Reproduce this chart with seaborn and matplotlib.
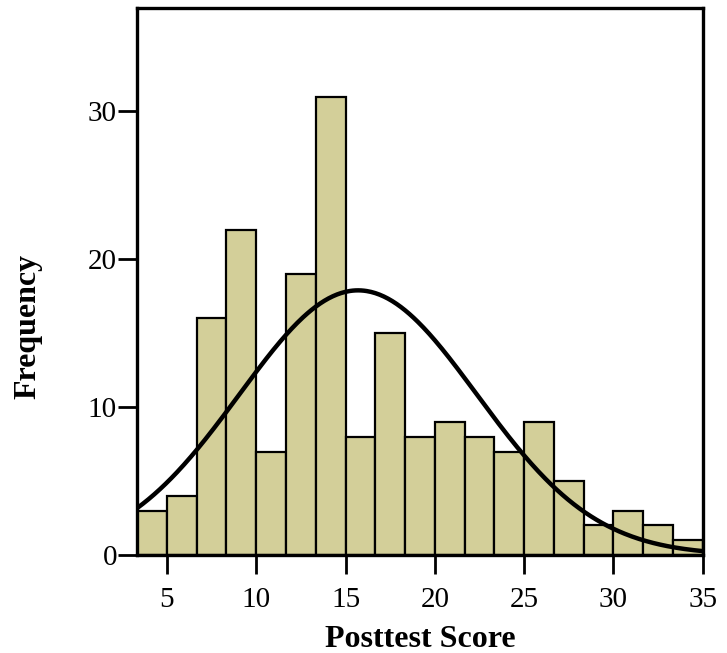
import numpy as np
import pandas as pd
import seaborn as sns
import matplotlib.pyplot as plt

# histogram: bins of width 5/3 from 3.33 to 35
bin_mids = [4.17, 5.83, 7.5, 9.17, 10.83, 12.5, 14.17, 15.83, 17.5, 19.17,
            20.83, 22.5, 24.17, 25.83, 27.5, 29.17, 30.83, 32.5, 34.17]
counts = [3, 4, 16, 22, 7, 19, 31, 8, 15, 8, 9, 8, 7, 9, 5, 2, 3, 2, 1]
bin_width = 5 / 3
first_edge = 10 / 3
last_edge = 35

# fitted normal curve
curve_mean = 15.7
curve_sd = 6.65

x_ticks = [5, 10, 15, 20, 25, 30, 35]
y_ticks = [0, 10, 20, 30]

df = pd.DataFrame({"score": bin_mids, "n": counts})

sns.set_style("ticks")
plt.rcParams["font.family"] = ["Liberation Serif", "DejaVu Serif"]
plt.rcParams["text.color"] = "black"
plt.rcParams["axes.labelcolor"] = "black"

fig = plt.figure(figsize=(7.27, 6.53), dpi=100)
ax = fig.add_axes([0.1887, 0.150, 0.778, 0.838])

sns.histplot(data=df, x="score", weights="n", binwidth=bin_width,
             binrange=(first_edge, last_edge), color="#D3CF99", alpha=1,
             edgecolor="black", linewidth=1.6, ax=ax)

n_total = df["n"].sum()
xs = np.linspace(first_edge, last_edge, 400)
ys = n_total * bin_width * np.exp(-0.5 * ((xs - curve_mean) / curve_sd) ** 2) / (curve_sd * np.sqrt(2 * np.pi))
sns.lineplot(x=xs, y=ys, color="black", linewidth=3.2, ax=ax)

ax.set_xlim(first_edge, last_edge)
ax.set_ylim(0, 37)
ax.set_xticks(x_ticks)
ax.set_yticks(y_ticks)
ax.tick_params(direction="out", length=14, width=2, labelsize=21, colors="black")
ax.tick_params(axis="x", pad=9)
ax.tick_params(axis="y", pad=0.5)
for s in ax.spines.values():
    s.set_linewidth(2.4)
    s.set_color("black")

ax.set_xlabel("Posttest Score", fontsize=23, fontweight="bold")
ax.set_ylabel("Frequency", fontsize=23, fontweight="bold")
ax.xaxis.set_label_coords(0.5, -0.128)
ax.yaxis.set_label_coords(-0.168, 0.417)

plt.savefig("out.png", dpi=100)
